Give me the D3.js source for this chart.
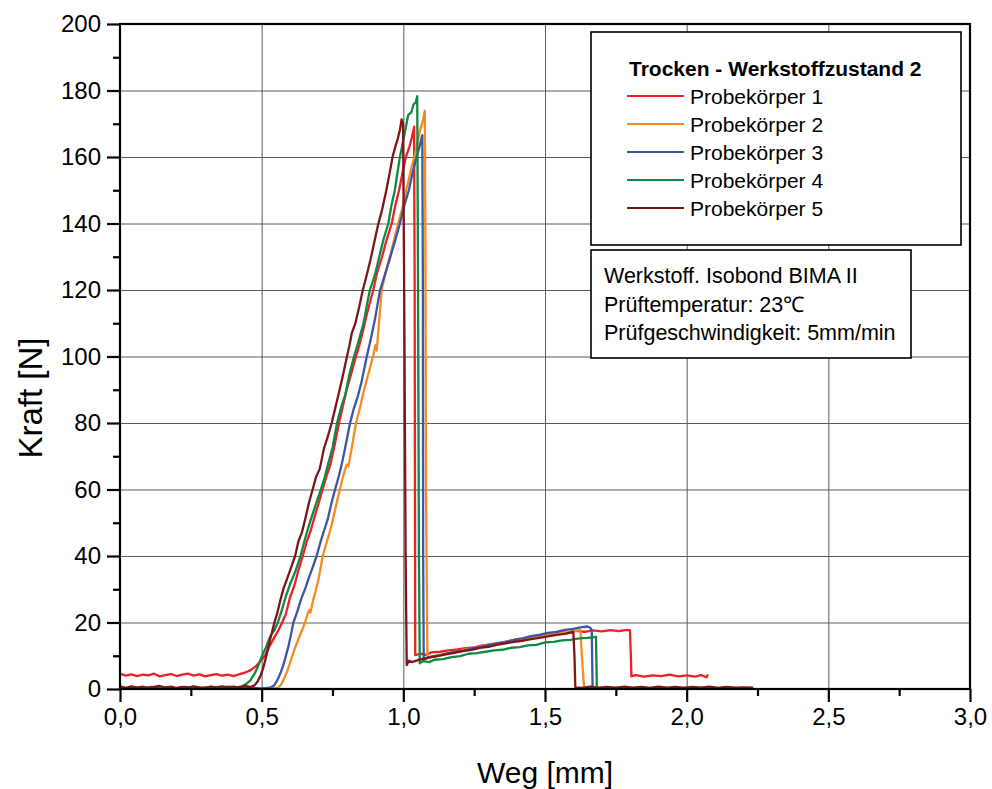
<!DOCTYPE html>
<html>
<head>
<meta charset="utf-8">
<script src="https://cdn.jsdelivr.net/npm/d3@7/dist/d3.min.js"></script>
<style>
  html, body { margin: 0; padding: 0; background: #fff; }
  svg { display: block; font-family: "Liberation Sans", Arial, sans-serif; }
</style>
</head>
<body>
<svg id="chart" width="992" height="789"></svg>
<script>
// Kraft-Weg-Kurven, Zugscherversuch, trocken, Werkstoffzustand 2
// Each series: [Weg in mm, Kraft in N]

const probe1 = [
  [0,4.6],[0.02,4.0],[0.04,4.4],[0.06,3.9],[0.08,4.3],[0.10,4.1],[0.12,4.6],[0.14,3.8],[0.16,4.2],[0.18,4.5],
  [0.20,3.9],[0.22,4.3],[0.24,4.6],[0.26,4.0],[0.28,4.4],[0.30,3.8],[0.32,4.2],[0.34,4.5],[0.36,4.0],[0.38,4.3],
  [0.40,3.9],[0.42,4.4],[0.44,4.9],[0.46,5.6],[0.48,6.9],[0.50,8.7],[0.515,10.5],[0.53,13.2],[0.545,15.6],[0.56,17.8],
  [0.572,20],[0.585,22.4],[0.60,27.5],[0.615,31],[0.63,35.8],[0.645,40],[0.66,44.5],[0.672,47.3],[0.688,52.2],[0.70,55.6],
  [0.715,60],[0.728,63.8],[0.742,67.4],[0.758,73.5],[0.773,80],[0.787,85.2],[0.80,90],[0.817,95.1],[0.833,100],[0.845,103.5],
  [0.858,107.8],[0.872,113],[0.894,120],[0.908,125.4],[0.925,130],[0.94,134.8],[0.959,140],[0.972,145.6],[0.985,150],[0.997,155.2],
  [1.009,160],[1.02,162.7],[1.03,165.8],[1.038,169.1],[1.04,120],[1.041,60],[1.042,10.2],
  [1.06,10.6],[1.08,10.3],[1.10,11.0],[1.13,11.2],[1.16,11.6],[1.19,11.9],[1.22,12.3],[1.25,12.5],[1.28,13.1],[1.31,13.4],
  [1.34,13.9],[1.37,14.3],[1.40,14.8],[1.43,15.1],[1.46,15.8],[1.49,16.2],[1.52,16.6],[1.55,16.9],[1.58,17.1],[1.61,17.5],
  [1.64,17.2],[1.67,17.6],[1.70,17.3],[1.73,17.7],[1.76,17.4],[1.79,17.8],[1.80,17.6],[1.803,10],[1.805,3.8],[1.82,4.2],
  [1.85,3.7],[1.88,4.1],[1.91,3.9],[1.94,4.3],[1.97,3.8],[2.00,4.1],[2.03,3.7],[2.05,4.2],[2.07,3.5],[2.075,4.4]
];

const probe2 = [
  [0,0.2],[0.05,0.1],[0.10,0.3],[0.15,0.1],[0.20,0.2],[0.25,0.3],[0.30,0.1],[0.35,0.2],[0.40,0.1],[0.45,0.3],
  [0.50,0.1],[0.53,0.2],[0.558,0.4],[0.568,1.3],[0.58,3.2],[0.592,5.8],[0.605,9.2],[0.618,12.4],[0.63,15.1],[0.642,17.6],
  [0.653,20],[0.662,22.5],[0.668,23.8],[0.672,22.9],[0.68,26.2],[0.69,29.3],[0.70,32.8],[0.708,36.4],[0.7155,40],[0.73,44.3],
  [0.745,48.6],[0.76,54.2],[0.776,60],[0.79,64.8],[0.80,67.5],[0.806,66.9],[0.812,69.6],[0.822,74.5],[0.833,80],[0.846,84.3],
  [0.86,89.5],[0.876,94.6],[0.893,100],[0.902,103.5],[0.906,101.8],[0.912,108],[0.918,114],[0.9235,120],[0.935,124.3],[0.948,128.6],
  [0.96,132.4],[0.972,136.8],[0.982,140],[0.995,144.2],[1.01,150],[1.02,153.6],[1.03,157.3],[1.039,160],[1.048,163.5],[1.059,168],
  [1.068,170.6],[1.076,173.9],[1.078,130],[1.08,60],[1.085,9.3],
  [1.10,9.8],[1.13,10.2],[1.16,10.9],[1.19,11.3],[1.22,11.9],[1.25,12.4],[1.28,12.9],[1.31,13.6],[1.34,13.9],[1.37,14.4],
  [1.40,15.0],[1.43,15.3],[1.46,15.7],[1.49,16.1],[1.52,16.5],[1.55,16.8],[1.58,17.2],[1.61,17.5],[1.625,17.7],[1.63,10],
  [1.638,0.3],[1.68,0.2],[1.74,0.4],[1.80,0.1],[1.86,0.3],[1.92,0.2],[1.98,0.4],[2.04,0.2],[2.10,0.3],[2.16,0.1],[2.2,0.3]
];

const probe3 = [
  [0,0.2],[0.05,0.1],[0.10,0.3],[0.15,0.1],[0.20,0.2],[0.25,0.1],[0.30,0.3],[0.35,0.2],[0.40,0.1],[0.45,0.3],
  [0.50,0.2],[0.52,0.3],[0.535,0.6],[0.545,1.2],[0.555,2.6],[0.565,4.5],[0.575,6.8],[0.585,9.8],[0.595,13.0],[0.603,16.2],
  [0.612,20],[0.625,23.1],[0.64,27.2],[0.655,30.5],[0.668,33.8],[0.68,36.6],[0.694,40],[0.708,44.3],[0.72,47.6],[0.733,51.0],
  [0.746,55.8],[0.759,60],[0.773,64.2],[0.785,68.5],[0.798,74],[0.812,80],[0.825,84.3],[0.838,87.6],[0.852,92.2],[0.871,100],
  [0.885,105.2],[0.90,111.3],[0.918,120],[0.935,124.6],[0.955,130.2],[0.972,135.1],[0.988,140],[1.003,145.3],[1.02,150.2],[1.034,155.8],
  [1.047,160],[1.058,163.4],[1.067,166.6],[1.069,120],[1.07,40],[1.072,8.7],
  [1.09,9.6],[1.12,10.0],[1.15,10.6],[1.18,11.2],[1.21,11.5],[1.24,12.2],[1.27,12.6],[1.30,13.2],[1.33,13.7],[1.36,14.1],
  [1.39,14.8],[1.42,15.2],[1.45,15.9],[1.48,16.3],[1.51,16.9],[1.54,17.2],[1.57,17.8],[1.60,18.1],[1.63,18.6],[1.65,18.8],
  [1.66,18.4],[1.665,17.5],[1.668,0.3],[1.72,0.2],[1.78,0.4],[1.84,0.1],[1.90,0.3],[1.96,0.2],[2.02,0.3],[2.08,0.1],[2.14,0.3],[2.2,0.2]
];

const probe4 = [
  [0,0.9],[0.02,0.3],[0.05,0.5],[0.08,0.2],[0.11,0.6],[0.14,0.3],[0.17,0.5],[0.20,0.2],[0.23,0.6],[0.26,0.4],
  [0.29,0.3],[0.32,0.6],[0.35,0.4],[0.38,0.7],[0.41,0.5],[0.43,0.8],[0.445,1.5],[0.46,2.6],[0.475,4.6],[0.49,7.4],
  [0.50,9.7],[0.515,12.5],[0.53,15.8],[0.545,17.7],[0.557,20],[0.57,23.4],[0.585,27.8],[0.60,31.5],[0.62,35.6],[0.637,40],
  [0.652,44.8],[0.668,49.5],[0.682,53.2],[0.697,57],[0.709,60],[0.722,63.5],[0.735,67.8],[0.75,72.5],[0.766,80],[0.78,84.6],
  [0.795,88.5],[0.81,94.8],[0.826,100],[0.842,104.6],[0.86,110.2],[0.872,115.8],[0.882,120],[0.90,124.6],[0.915,130],[0.93,135.2],
  [0.947,140],[0.958,145.5],[0.97,150],[0.98,155.8],[0.988,160],[0.998,164.3],[1.008,168.5],[1.017,172.6],[1.028,173.4],[1.036,175.8],
  [1.044,176.5],[1.049,178.3],[1.052,120],[1.055,40],[1.058,7.7],
  [1.07,8.4],[1.09,8.1],[1.11,8.8],[1.14,9.0],[1.17,9.6],[1.20,9.9],[1.23,10.6],[1.26,10.8],[1.29,11.2],[1.32,11.6],
  [1.35,11.8],[1.38,12.4],[1.41,12.6],[1.44,13.1],[1.47,13.3],[1.50,14.0],[1.53,14.2],[1.56,14.6],[1.59,14.8],[1.62,15.2],
  [1.65,15.4],[1.68,15.7],[1.683,0.3],[1.72,0.2],[1.78,0.4],[1.84,0.1],[1.90,0.3],[1.96,0.2],[2.02,0.4],[2.08,0.2],[2.14,0.3],[2.2,0.2]
];

const probe5 = [
  [0,0.6],[0.02,0.3],[0.04,0.8],[0.06,0.4],[0.08,0.7],[0.10,0.3],[0.12,0.6],[0.14,0.9],[0.16,0.4],[0.18,0.7],
  [0.20,0.3],[0.22,0.6],[0.24,0.4],[0.26,0.8],[0.28,0.5],[0.30,0.3],[0.32,0.7],[0.34,0.5],[0.36,0.8],[0.38,0.4],
  [0.40,0.7],[0.42,0.5],[0.44,0.9],[0.46,0.6],[0.475,1.1],[0.485,2.2],[0.495,3.8],[0.505,6.2],[0.515,9.5],[0.525,13.2],
  [0.535,16.6],[0.545,20],[0.555,22.8],[0.565,26.4],[0.578,30.5],[0.59,33.2],[0.605,36.8],[0.618,40],[0.63,44.5],[0.642,47.1],
  [0.655,51.6],[0.668,56.4],[0.68,60],[0.692,63.8],[0.705,66.2],[0.72,72.4],[0.733,75.8],[0.747,80],[0.76,84.6],[0.772,88.9],
  [0.785,93.6],[0.801,100],[0.81,103.4],[0.818,107],[0.83,109.8],[0.844,114.8],[0.857,120],[0.87,124.2],[0.885,129.5],[0.898,134.6],
  [0.912,140],[0.925,144.1],[0.94,150],[0.952,155.3],[0.962,160],[0.972,163.2],[0.98,165.4],[0.988,168.2],[0.994,171.3],[0.999,170.1],
  [1.003,120],[1.008,40],[1.012,7.2],[1.02,8.5],[1.03,8.1],
  [1.06,8.9],[1.09,9.4],[1.12,9.9],[1.15,10.4],[1.18,10.9],[1.21,11.4],[1.24,11.8],[1.27,12.4],[1.30,12.7],[1.33,13.3],
  [1.36,13.7],[1.39,14.2],[1.42,14.5],[1.45,15.0],[1.48,15.4],[1.51,15.8],[1.54,16.3],[1.57,16.6],[1.60,17.2],[1.604,10],
  [1.607,0.5],[1.63,0.3],[1.66,0.7],[1.69,0.4],[1.72,0.6],[1.75,0.3],[1.78,0.7],[1.81,0.4],[1.84,0.6],[1.87,0.3],
  [1.90,0.7],[1.93,0.4],[1.96,0.6],[1.99,0.3],[2.02,0.6],[2.05,0.4],[2.08,0.7],[2.11,0.3],[2.14,0.6],[2.17,0.4],[2.20,0.5],[2.235,0.4]
];

const seriesNames = ["Probekörper 1", "Probekörper 2", "Probekörper 3", "Probekörper 4", "Probekörper 5"];
const seriesColors = ["#ee1f26", "#f68b1f", "#3c55a5", "#0f8a42", "#7f1518"];
const seriesData = [probe1, probe2, probe3, probe4, probe5];

const xMajorTicks = [0, 0.5, 1.0, 1.5, 2.0, 2.5, 3.0];
const xMinorTicks = [0.25, 0.75, 1.25, 1.75, 2.25, 2.75];
const yMajorTicks = [0, 20, 40, 60, 80, 100, 120, 140, 160, 180, 200];
const yMinorTicks = [10, 30, 50, 70, 90, 110, 130, 150, 170, 190];

const legendTitle = "Trocken - Werkstoffzustand 2";
const infoLines = ["Werkstoff. Isobond BIMA II", "Prüftemperatur: 23\u2103", "Prüfgeschwindigkeit: 5mm/min"];

const xLabel = "Weg [mm]";
const yLabel = "Kraft [N]";

// ---- layout ----
const svg = d3.select("#chart");
const plotLeft = 120, plotTop = 24, plotRight = 970, plotBottom = 689;
const plotW = plotRight - plotLeft, plotH = plotBottom - plotTop;

const x = d3.scaleLinear().domain([0, 3]).range([plotLeft, plotRight]);
const y = d3.scaleLinear().domain([0, 200]).range([plotBottom, plotTop]);
const fmt = v => d3.format(".1f")(v).replace(".", ",");

// grid
const grid = svg.append("g").attr("class", "grid");
grid.append("g").attr("transform", `translate(0,${plotBottom})`)
  .call(d3.axisBottom(x).tickValues(xMajorTicks.slice(1, -1)).tickSize(-plotH).tickFormat(""))
  .call(g => g.select(".domain").remove())
  .call(g => g.selectAll("line").attr("stroke", "#5a5a5a").attr("stroke-width", 1));
grid.append("g").attr("transform", `translate(${plotLeft},0)`)
  .call(d3.axisLeft(y).tickValues(yMajorTicks.slice(1, -1)).tickSize(-plotW).tickFormat(""))
  .call(g => g.select(".domain").remove())
  .call(g => g.selectAll("line").attr("stroke", "#5a5a5a").attr("stroke-width", 1));

// curves
const line = d3.line().x(d => x(d[0])).y(d => y(d[1]));
svg.append("g").selectAll("path").data(seriesData).join("path")
  .attr("d", line)
  .attr("fill", "none")
  .attr("stroke", (d, i) => seriesColors[i])
  .attr("stroke-width", 2.3)
  .attr("stroke-linejoin", "round");

// frame
svg.append("rect").attr("x", plotLeft).attr("y", plotTop).attr("width", plotW).attr("height", plotH)
  .attr("fill", "none").attr("stroke", "#000").attr("stroke-width", 2.2);

// axes
const styleAxis = g => {
  g.select(".domain").remove();
  g.selectAll("line").attr("stroke", "#000").attr("stroke-width", 2.2);
  g.selectAll("text").attr("fill", "#000").attr("font-size", "24px")
    .attr("font-family", "'Liberation Sans', Arial, sans-serif");
};
svg.append("g").attr("transform", `translate(0,${plotBottom})`)
  .call(d3.axisBottom(x).tickValues(xMajorTicks).tickSize(13).tickPadding(6).tickFormat(fmt))
  .call(styleAxis);
svg.append("g").attr("transform", `translate(0,${plotBottom})`)
  .call(d3.axisBottom(x).tickValues(xMinorTicks).tickSize(7).tickFormat(""))
  .call(styleAxis);
svg.append("g").attr("transform", `translate(${plotLeft},0)`)
  .call(d3.axisLeft(y).tickValues(yMajorTicks).tickSize(13).tickPadding(6).tickFormat(d3.format("d")))
  .call(styleAxis);
svg.append("g").attr("transform", `translate(${plotLeft},0)`)
  .call(d3.axisLeft(y).tickValues(yMinorTicks).tickSize(7).tickFormat(""))
  .call(styleAxis);

// axis titles
svg.append("text").attr("x", (plotLeft + plotRight) / 2).attr("y", 783)
  .attr("text-anchor", "middle").attr("font-size", "30px").text(xLabel);
svg.append("text").attr("transform", `translate(42,398) rotate(-90)`)
  .attr("text-anchor", "middle").attr("font-size", "33px").text(yLabel);

// legend
const lg = svg.append("g");
lg.append("rect").attr("x", 591).attr("y", 32).attr("width", 370).attr("height", 213)
  .attr("fill", "#fff").attr("stroke", "#000").attr("stroke-width", 1.6);
lg.append("text").attr("x", 629).attr("y", 76).attr("font-size", "21px").attr("font-weight", "bold")
  .text(legendTitle);
seriesNames.forEach((name, i) => {
  const cy = 96 + i * 28;
  lg.append("line").attr("x1", 627).attr("x2", 684).attr("y1", cy).attr("y2", cy)
    .attr("stroke", seriesColors[i]).attr("stroke-width", 2);
  lg.append("text").attr("x", 690).attr("y", cy + 7.5).attr("font-size", "21px").text(name);
});

// test conditions
const ib = svg.append("g");
ib.append("rect").attr("x", 591).attr("y", 250).attr("width", 320).attr("height", 108)
  .attr("fill", "#fff").attr("stroke", "#000").attr("stroke-width", 1.6);
infoLines.forEach((t, i) => {
  ib.append("text").attr("x", 604).attr("y", 283 + i * 28.5).attr("font-size", "21.5px").text(t);
});
</script>
</body>
</html>
